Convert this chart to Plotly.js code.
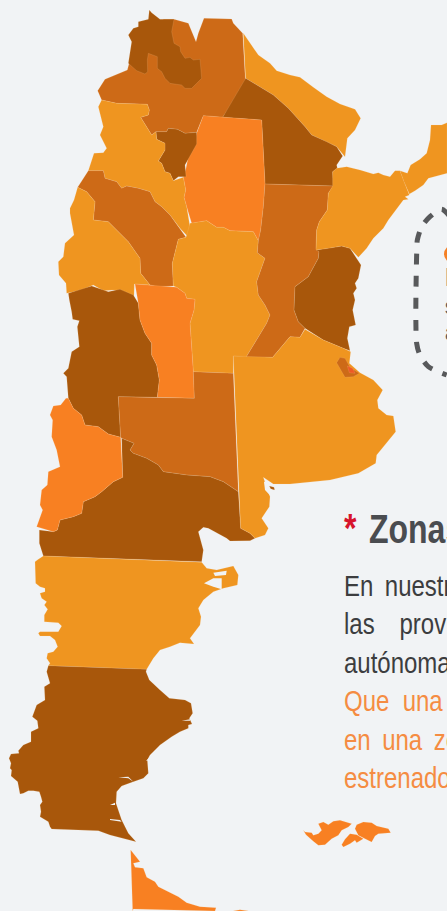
<!DOCTYPE html>
<html><head><meta charset="utf-8">
<script src="https://cdn.plot.ly/plotly-3.0.1.min.js"></script>
<style>html,body{margin:0;padding:0;background:#f1f3f5;overflow:hidden}#c{width:447px;height:911px}</style>
</head><body><div id="c"></div>
<script>
// crop-space reading helper: outlines were read at 3x from crops with the given origin
const R=(ox,oy,pts)=>pts.map(p=>[p[0]/3+ox,p[1]/3+oy]);
const A=(p)=>R(50,0,p), B=(p)=>R(30,280,p), C=(p)=>R(0,500,p), D=(p)=>R(120,840,p), E=(p)=>R(5,550,p), F=(p)=>R(5,670,p), G=(p)=>R(110,660,p), H=(p)=>R(300,812,p);

const salta=A([[340,58],[372,58],[415,70],[438,125],[445,100],[462,55],[545,57],[550,70],[578,100],[587,255],[518,352],[460,347],[440,397],[405,400],[382,388],[355,385],[350,395],[318,395],[305,405],[272,352],[295,345],[298,330],[292,313],[200,310],[155,300],[143,272],[165,238],[232,210],[240,180],[300,150],[340,100]]);
const jujuy=A([[298,30],[305,38],[330,58],[372,58],[365,95],[372,130],[390,140],[392,155],[405,175],[420,172],[430,180],[450,178],[455,235],[425,265],[405,265],[395,255],[360,250],[345,235],[335,215],[322,205],[322,170],[295,160],[292,180],[293,215],[285,222],[260,212],[235,190],[245,125],[235,105],[250,85],[265,80],[265,65],[295,58]]);
const formosa=A([[580,100],[600,130],[625,165],[660,190],[680,212],[720,225],[750,232],[790,262],[830,290],[870,312],[915,328],[932,355],[915,390],[892,415],[885,470],[860,440],[830,425],[810,415],[785,405],[765,380],[740,352],[715,325],[670,285],[630,262],[587,235]]);
const chaco=A([[587,235],[630,262],[670,285],[715,325],[740,352],[765,380],[785,405],[810,415],[830,425],[860,440],[878,468],[860,495],[862,505],[848,515],[850,558],[645,552],[635,360],[518,352]]);
const santiago=A([[460,347],[518,352],[635,360],[645,552],[640,620],[632,690],[625,722],[610,695],[540,692],[520,682],[500,682],[470,662],[425,670],[410,620],[402,592],[407,570],[400,532],[408,505],[415,470],[430,440],[440,400]]);
const tucuman=A([[318,395],[350,395],[355,385],[382,388],[405,400],[440,397],[440,432],[422,465],[405,495],[408,530],[385,530],[370,542],[360,520],[345,515],[335,490],[325,483],[345,450],[345,430],[320,418]]);
const catamarca=A([[155,300],[200,310],[292,313],[298,330],[295,345],[272,352],[305,405],[318,395],[320,418],[345,430],[345,450],[325,483],[335,490],[345,515],[360,520],[370,542],[400,532],[407,570],[402,592],[410,620],[420,680],[412,708],[390,685],[360,645],[335,620],[315,605],[300,575],[265,565],[230,558],[215,565],[200,545],[165,535],[160,512],[115,512],[132,460],[160,458],[170,445],[150,405],[160,380],[145,320]]);
const larioja=A([[115,512],[160,512],[165,535],[200,545],[215,565],[230,558],[265,565],[300,575],[315,605],[335,620],[360,645],[390,685],[408,712],[385,718],[367,790],[370,858],[325,860],[300,855],[272,820],[270,775],[235,725],[205,695],[175,665],[130,660],[135,605],[110,575],[83,562]]);
const sanjuan=A([[83,562],[110,575],[135,605],[130,660],[175,665],[205,695],[235,725],[270,775],[272,820],[300,855],[253,852],[252,888],[220,875],[190,870],[160,872],[130,855],[95,870],[50,880],[48,850],[27,825],[25,785],[40,770],[45,730],[72,705],[60,640],[60,625],[72,600]]);
const sanluis=B([[315,12],[355,15],[400,18],[440,22],[465,40],[470,55],[495,58],[492,90],[480,130],[490,275],[493,355],[382,352],[388,300],[380,255],[365,225],[365,190],[345,160],[330,120],[325,70]]);
const cordoba=A([[420,670],[470,662],[500,682],[520,682],[540,692],[610,695],[625,722],[622,758],[645,775],[632,810]]).concat(B([[680,5],[685,45],[705,75],[720,105],[710,130],[648,232],[610,228],[610,280],[490,275],[480,130],[492,90],[495,58],[470,55],[465,40],[440,22]]),A([[370,858],[367,790],[385,718],[408,712]]));
const santafe=A([[645,552],[850,558],[835,580],[832,630],[808,665],[800,690],[798,745],[807,755],[805,775],[775,830],[735,860]]).concat(B([[792,90],[805,125],[825,145],[810,172],[780,170],[728,232],[648,232],[710,130],[720,105],[705,75],[685,45],[680,5]]),A([[632,810],[645,775],[622,758],[625,722],[632,690],[640,620]]));
const entrerios=A([[798,750],[835,745],[875,738],[900,745],[925,780],[933,795],[925,835],[915,850],[920,865],[910,880],[915,900]]).concat(B([[968,90],[977,135],[958,140],[952,175],[960,212],[940,205],[880,180],[825,145],[805,125],[792,90]]),A([[735,860],[775,830],[805,775],[807,755]]));
const corrientes=A([[860,505],[890,500],[930,510],[970,522],[985,518],[1000,525],[1020,530],[1035,512],[1050,512],[1062,545],[1078,585],[1065,590],[1075,598],[1060,600],[1035,635],[1015,660],[1000,685],[970,715],[950,745],[925,772],[900,745],[875,738],[835,745],[798,750],[800,690],[808,665],[832,630],[835,580],[848,558],[848,515]]);
const misiones=A([[1050,512],[1072,520],[1082,495],[1110,478],[1130,460],[1140,420],[1143,375],[1175,375],[1191,368],[1191,520],[1135,535],[1120,555],[1095,572],[1078,582],[1062,545]]);
const mendoza=B([[115,40],[185,18],[235,35],[270,28],[310,45],[325,70],[330,120],[345,160],[365,190],[365,225],[380,255],[388,300],[382,352],[265,350],[272,472],[235,462],[205,440],[165,435],[155,405],[130,385],[115,355],[110,290],[100,280],[115,265],[125,215],[148,200],[142,140],[148,122],[128,118],[125,95],[118,60]]);
const lapampa=B([[265,350],[382,352],[493,355],[490,275],[610,280],[625,635],[580,605],[540,590],[470,585],[400,575],[385,555],[350,535],[310,520],[300,510],[312,490],[275,475],[272,472]]);
const neuquen=B([[108,355],[115,355],[130,385],[155,405],[165,435],[205,440],[235,462],[272,472],[278,592],[250,605],[215,635],[195,650],[160,665],[155,700],[130,710],[90,720],[82,750],[70,755],[20,740],[38,690],[30,675],[35,630],[52,615],[55,575],[90,560],[80,510],[65,470],[68,420],[60,405],[70,378],[92,375]]);
const rionegro=B([[275,475],[312,490],[300,510],[310,520],[350,535],[385,555],[400,575],[470,585],[540,590],[580,605],[625,635],[632,745],[660,760],[675,775],[660,782],[600,783],[590,775],[535,745],[520,742],[505,755],[520,810],[515,845],[40,828],[28,790],[28,750],[70,755],[82,750],[90,720],[130,710],[155,700],[160,665],[195,650],[215,635],[250,605],[278,592]]);
const buenosaires=B([[610,228],[728,232],[780,170],[810,172],[825,148],[880,180],[940,205],[962,215],[958,250],[990,278],[1030,300],[1058,330],[1042,360],[1045,385],[1070,405],[1090,408],[1097,455],[1065,495],[1040,525],[1037,550],[985,580],[900,600],[780,612],[730,612],[700,592],[720,650],[718,680],[695,715],[715,745],[705,765],[675,775],[660,760],[632,745]]);
const caba=B([[930,232],[945,235],[960,262],[988,280],[970,290],[945,292],[920,248]]);
const cabaCentro=B([[952,258],[968,265],[975,280],[958,278]]);
const chubut=C([[130,168],[605,187],[620,205],[650,210],[700,198],[715,225],[712,255],[670,265],[640,275],[610,300],[595,325],[603,350],[600,375],[580,400],[570,415],[582,432],[540,428],[510,440],[480,450],[460,475],[440,508],[145,497]]).concat(E([[135,340],[125,325],[128,310],[145,305],[158,290],[150,270],[135,258],[105,258],[100,250],[105,245],[160,245],[170,228],[160,218],[118,215],[118,195],[128,178],[118,165],[125,155],[110,145],[105,130],[120,125],[120,115],[105,110],[92,100],[90,60],[90,35],[100,28],[112,20]]));
const santacruz=C([[145,497],[440,508]]).concat(G([[108,35],[118,60],[150,90],[178,115],[225,120],[243,130],[248,160],[238,175],[246,192],[235,195],[235,205],[210,215],[185,230],[150,255],[120,285],[112,300],[115,340],[100,355],[70,365],[35,378],[20,395],[18,430],[35,480],[55,520],[78,545],[0,525]]),C([[295,992],[155,987]]),F([[135,470],[130,455],[105,440],[108,425],[105,405],[112,395],[108,380],[103,365],[85,362],[70,362],[55,370],[45,372],[38,335],[18,318],[20,300],[15,295],[18,280],[12,265],[18,252],[42,250],[40,242],[55,225],[78,215],[78,185],[100,175],[97,152],[82,140],[95,105],[120,90],[118,50],[135,40],[125,5]]));
const tierraDelFuego=D([[32,30],[60,65],[40,70],[45,82],[70,85],[80,112],[105,125],[115,140],[175,170],[200,188],[240,200],[288,203],[285,213],[70,207],[40,207],[38,213]]);
const islaEstados=D([[340,213],[360,209],[385,213]]);
const malvinasOeste=H([[10,55],[15,60],[35,62],[40,70],[55,65],[65,55],[55,35],[70,30],[85,38],[100,28],[120,25],[155,35],[145,45],[125,55],[115,70],[95,80],[75,98],[55,100],[40,88],[30,78],[18,68]]);
const malvinasEste=H([[165,50],[170,38],[190,30],[215,32],[230,42],[265,50],[272,62],[235,65],[225,72],[215,90],[195,80],[175,70],[170,60]]);
const lafonia=H([[150,65],[170,68],[190,80],[170,92],[165,85],[150,95],[130,105],[125,98],[135,82]]);
const golfoSanJose=C([[640,218],[680,212],[678,225],[645,228]]);
const golfoNuevo=C([[612,250],[640,235],[665,235],[665,268],[640,260]]);
const bahiaSanBlas=B([[702,605],[722,608],[735,640],[722,648],[705,630]]);
const islaBlas=B([[718,618],[732,622],[734,630],[722,626]]);
const fiordos=[G([[25,352],[55,350],[70,365],[55,355]]),G([[108,303],[120,290],[118,300]]),G([[0,480],[35,485],[30,480],[0,477]]),G([[0,435],[15,428],[15,435]]),G([[215,182],[240,178],[240,182]])];
const contorno=A([[1200,650],[1175,628],[1140,650],[1115,680],[1102,720]]).concat(R(400,190,[[51,160],[50,460],[60,495],[85,530],[140,555]]));

const DARK='#a8570b', MID='#cd6a17', LIGHT='#ef9520', BRIGHT='#f88022', BG='#f1f3f5';
const shapes=[
 [salta,MID],[jujuy,DARK],[formosa,LIGHT],[chaco,DARK],[santiago,BRIGHT],[tucuman,DARK],[catamarca,LIGHT],[larioja,MID],[sanjuan,LIGHT],
 [mendoza,DARK],[cordoba,LIGHT],[sanluis,BRIGHT],[santafe,MID],[entrerios,DARK],[corrientes,LIGHT],[misiones,LIGHT],
 [lapampa,MID],[rionegro,DARK],[neuquen,BRIGHT],[buenosaires,LIGHT],[caba,MID],[cabaCentro,'#ee5a24'],[chubut,LIGHT],[santacruz,DARK],
 [tierraDelFuego,BRIGHT],[islaEstados,BRIGHT],[malvinasOeste,BRIGHT],[malvinasEste,BRIGHT],[lafonia,BRIGHT],
 [golfoSanJose,BG],[golfoNuevo,BG],[bahiaSanBlas,BG],[islaBlas,DARK],...fiordos.map(f=>[f,BG])
];
const traces=shapes.map(([pts,col])=>({
 type:'scatter',mode:'lines',x:pts.map(p=>p[0]).concat(pts[0][0]),y:pts.map(p=>p[1]).concat(pts[0][1]),
 fill:'toself',fillcolor:col,line:{color:col===BG?BG:'rgba(255,214,170,0.3)',width:col===BG?0:0.5},hoverinfo:'skip',showlegend:false}));
traces.push({type:'scatter',mode:'lines',x:contorno.map(p=>p[0]),y:contorno.map(p=>p[1]),line:{color:'#58595b',width:5,dash:'11px,11px',shape:'spline',smoothing:0.8},hoverinfo:'skip',showlegend:false});
traces.push({type:'scatter',mode:'markers',x:[453],y:[254],marker:{size:18,color:'#f58025'},hoverinfo:'skip',showlegend:false});

const sans='"Liberation Sans",sans-serif';
const sp='\u00a0', th='\u2009';
const textoGris=['En'+sp+th+'nuestro','las'+sp+sp+sp+th+'provincias','autónomas'];
const textoNaranja=['Que'+sp+sp+'una'+sp+sp+'zona','en'+sp+th+'una'+sp+th+'zona','estrenados'];
const caja=['Provincias','se','a'];
const T=(t,x,y,size,color)=>({text:t,x,y,xref:'x',yref:'y',xanchor:'left',yanchor:'middle',align:'left',showarrow:false,font:{family:sans,size,color}});
const ann=[T('<b>*</b>',342,528,40,'#d7142c'),T('<b>Zonas</b>',367,529,40,'#4a4c50')];
textoGris.forEach((t,i)=>ann.push(T(t,342,585+i*38.5,30,'#3c3d3f')));
textoNaranja.forEach((t,i)=>ann.push(T(t,342,700.5+i*38.5,30,'#f58c42')));
caja.forEach((t,i)=>ann.push(T(t,443,[277,306,332][i],[26,22,22][i],'#58595b')));

Plotly.newPlot('c',traces,{
 width:447,height:911,margin:{l:0,r:0,t:0,b:0},paper_bgcolor:BG,plot_bgcolor:BG,showlegend:false,
 xaxis:{range:[0,447],visible:false,fixedrange:true},
 yaxis:{range:[911,0],visible:false,fixedrange:true},
 annotations:ann
},{displayModeBar:false,staticPlot:true}).then(()=>{
 // the reference type is condensed: narrow each text horizontally about its left edge
 document.querySelectorAll('#c .annotation-text').forEach(t=>{
  const x0=t.getBBox().x, s=t.querySelector('b')?0.9:0.8;
  t.setAttribute('transform','translate('+x0+',0) scale('+s+',1) translate('+(-x0)+',0)');
 });
});
</script></body></html>
